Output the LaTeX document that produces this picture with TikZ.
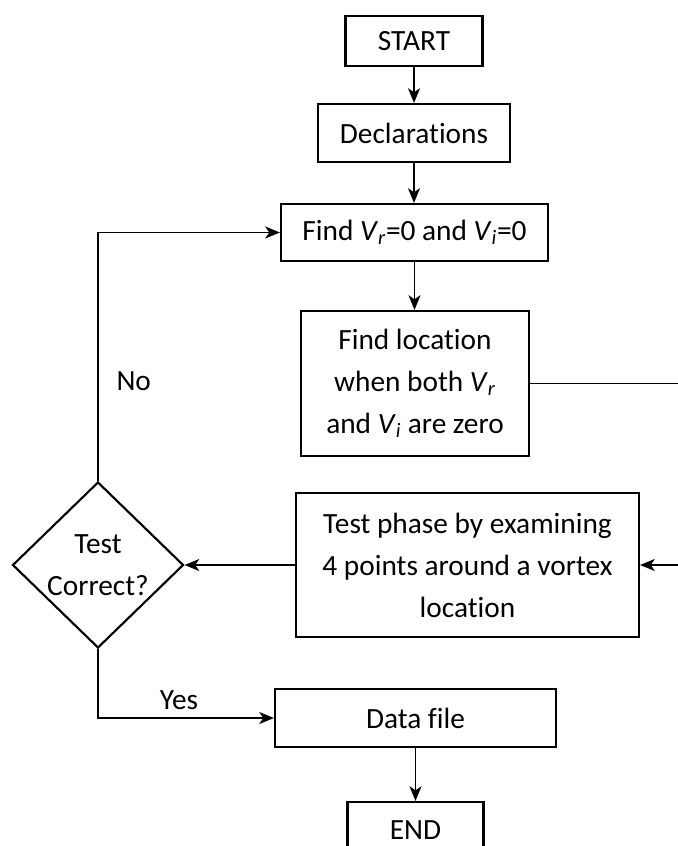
\documentclass[tikz,border=0pt]{standalone}
\usepackage{fontspec}
\setmainfont{Carlito}[Ligatures=NoCommon]
\usetikzlibrary{calc, positioning, shapes.geometric, arrows.meta}
\def\px{0.75pt}
\def\boxlinewidth{1.6pt}
\def\connectionwidth{1.1pt}
\def\labelshift{10pt}
\newcommand{\vsub}[1]{\textit{V}\textsubscript{\textit{#1}}}
\tikzset{
	% texts
	box_text/.style={
		font=\fontsize{22}{31.5}\selectfont,
		align=center,
	},
	% general
	module/.style={
		draw,
		line width=\boxlinewidth,
		box_text,
		shape=rectangle,
		inner sep=0,
	},
	% decision
	decision/.style={
		module,
		shape=diamond,
		aspect=1.03,
		minimum width=171*\px,
		minimum height=166*\px,
	},
	% connections
	connection/.style={
		line width=\connectionwidth,
		-{Stealth[length=11pt, width=9pt, inset=3pt]},
	},
	connection_label/.style={
		box_text,
	},
}
\begin{document}
\begin{tikzpicture}[x=\px, y=-\px]
		\useasboundingbox (0,0) rectangle (678,846);
		\clip (0,0) rectangle (678,846);

		% Start
		\node[module, minimum width=137*\px, minimum height=50*\px] (start) at (414,41) {START};
		% Declarations
		\node[module, minimum width=192*\px, minimum height=58*\px] (declarations) at (414,133) {Declarations};
		% Find zeros
		\node[module, minimum width=267*\px, minimum height=57*\px] (find_zeros) at (414.5,232.5) {Find \vsub{r}=0 and \vsub{i}=0};
		% Find location
		\node[module, minimum width=228*\px, minimum height=145*\px] (find_location) at (415,383.5) {Find location\\when both \vsub{r}\\and \vsub{i} are zero};
		% Test phase
		\node[module, minimum width=343*\px, minimum height=144*\px] (test_phase) at (467.5,565) {Test phase by examining\\4 points around a vortex\\location};
		% Test correct
		\node[decision] (test_correct) at (98,565) {Test\\Correct?};
		% Data file
		\node[module, minimum width=281*\px, minimum height=58*\px] (data_file) at (415.5,718) {Data file};
		% End
		\node[module, minimum width=136*\px, minimum height=56*\px] (end) at (415.5,830) {END};

		% Side route
		\coordinate (side_route) at (700,383.5);

		% Connections
		\draw[connection] (start) -- (start|-declarations.north);
		\draw[connection] (declarations) -- (declarations|-find_zeros.north);
		\draw[connection] (find_zeros) -- (find_zeros|-find_location.north);
		\draw[connection] (find_location.east) -- (side_route) |- (test_phase.east);
		\draw[connection] (test_phase) -- (test_correct);
		\draw[connection] (test_correct.north) |- (find_zeros.west)
						node[pos=0.2, right=\labelshift, connection_label] {No};
		\draw[connection] (test_correct.south) |- (data_file.west)
						node[pos=0.73, above=2pt, connection_label] {Yes};
		\draw[connection] (data_file) -- (end);
	\end{tikzpicture}
\end{document}
